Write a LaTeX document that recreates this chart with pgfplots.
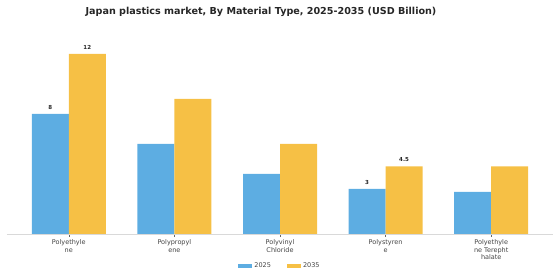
\documentclass[border=0pt]{standalone}
\usepackage{pgfplots}
\pgfplotsset{compat=1.18}
\usepackage{fontspec}
\setmainfont{DejaVu Sans}
\definecolor{cblue}{HTML}{5DADE2}
\definecolor{corange}{HTML}{F6C045}
\definecolor{ctext}{HTML}{444444}
\begin{document}
\begin{tikzpicture}[x=1pt,y=1pt]
\useasboundingbox (0,0) rectangle (560,280);
\node[font=\fontsize{9.6}{11}\selectfont\bfseries, text=black!85] at (261,268.5) {Japan plastics market, By Material Type, 2025-2035 (USD Billion)};
\begin{axis}[
  at={(7pt,46pt)}, anchor=south west,
  scale only axis, width=546pt, height=189pt,
  xmin=-0.585, xmax=4.585, ymin=0, ymax=12.6,
  ybar=0pt, bar width=37pt,
  axis x line*=bottom, axis y line=none,
  x axis line style={draw=black!15, line width=0.8pt},
  xtick={0,1,2,3,4},
  xticklabels={Polyethyle\\ne, Polypropyl\\ene, Polyvinyl\\Chloride, Polystyren\\e, Polyethyle\\ne Terepht\\halate},
  xticklabel style={align=center, font=\fontsize{6.5}{7.6}\selectfont, text=ctext, yshift=1pt},
  major tick length=3pt,
  xtick style={draw=black!60, line width=0.5pt},
  tick align=outside,
  ytick=\empty,
  point meta=explicit symbolic,
  nodes near coords,
  nodes near coords style={font=\fontsize{5.5}{6}\selectfont\bfseries, text=black!85, yshift=1pt},
  legend columns=2,
  legend style={at={(0.5,-0.17)}, anchor=center, draw=none, fill=none,
    font=\fontsize{6.5}{7.5}\selectfont, text=ctext,
    /tikz/every even column/.append style={column sep=14pt}},
  legend image code/.code={\fill[#1] (0pt,-2.2pt) rectangle (14pt,2.2pt);},
]
\addplot[fill=cblue, draw=none] coordinates {(0,8)[8] (1,6)[] (2,4)[] (3,3)[3] (4,2.8)[]};
\addplot[fill=corange, draw=none] coordinates {(0,12)[12] (1,9)[] (2,6)[] (3,4.5)[4.5] (4,4.5)[]};
\legend{2025,2035}
\end{axis}
\end{tikzpicture}
\end{document}
